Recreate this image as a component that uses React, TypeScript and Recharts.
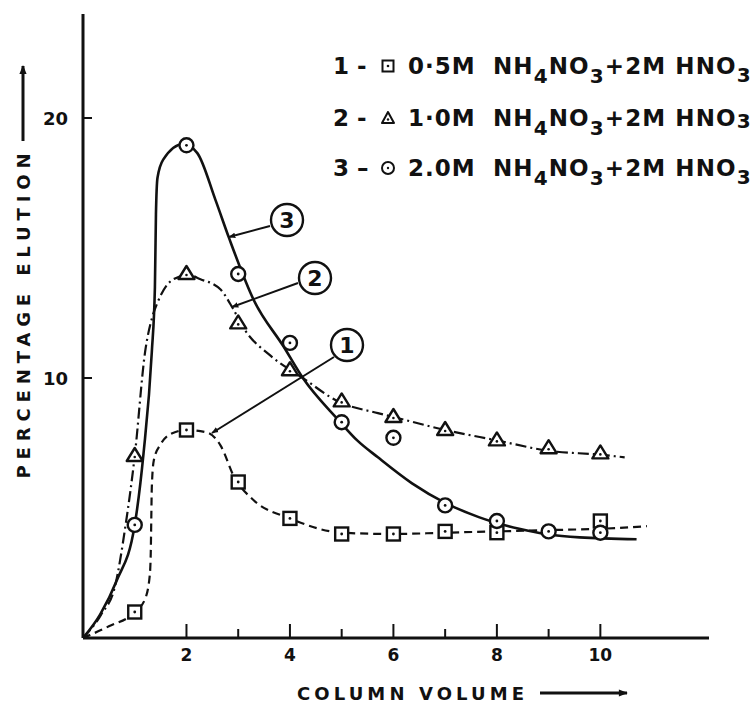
import React from "react";
import { ComposedChart, Line, Scatter, XAxis, YAxis } from "recharts";

// measured points (column volume -> % elution)
const sqX = [1, 2, 3, 4, 5, 6, 7, 8, 10];
const sqY = [1.0, 8.0, 6.0, 4.6, 4.0, 4.0, 4.1, 4.05, 4.5];
const triX = [1, 2, 3, 4, 5, 6, 7, 8, 9, 10];
const triY = [7.0, 14.0, 12.1, 10.3, 9.1, 8.5, 8.0, 7.6, 7.3, 7.1];
const cirX = [1, 2, 3, 4, 5, 6, 7, 8, 9, 10];
const cirY = [4.35, 18.95, 14.0, 11.35, 8.3, 7.7, 5.1, 4.5, 4.1, 4.05];

// hand-drawn fitted curves
const curve1X = [0, 0.5, 1.0, 1.2, 1.29, 1.31, 1.32, 1.33, 1.37, 1.5, 1.7, 2.0, 2.4, 2.66, 2.92, 3.3, 4.0, 5.0, 6.0, 7.0, 8.0, 9.0, 10.0, 10.9];
const curve1Y = [0, 0.45, 1.0, 1.5, 2.4, 3.3, 4.6, 5.8, 6.85, 7.45, 7.85, 8.0, 7.9, 7.4, 6.2, 5.3, 4.6, 4.05, 4.0, 4.05, 4.1, 4.15, 4.2, 4.3];
const curve2X = [0, 0.35, 0.62, 0.82, 1.0, 1.2, 1.34, 1.44, 1.75, 2.05, 2.27, 2.66, 2.89, 3.11, 3.63, 4.25, 4.93, 5.7, 6.0, 7.0, 8.0, 9.0, 10.0, 10.47];
const curve2Y = [0, 0.9, 2.0, 4.3, 7.0, 11.0, 12.35, 12.9, 13.8, 13.95, 13.8, 13.4, 12.7, 11.9, 10.85, 10.0, 9.1, 8.65, 8.5, 8.0, 7.6, 7.2, 7.05, 6.95];
const curve3X = [0, 0.33, 0.65, 1.0, 1.17, 1.33, 1.39, 1.41, 1.44, 1.55, 1.94, 2.21, 2.56, 2.82, 3.3, 3.88, 4.25, 4.93, 5.3, 5.7, 6.36, 7.0, 7.65, 8.43, 9.0, 9.6, 10.7];
const curve3Y = [0, 0.9, 2.2, 4.35, 7.1, 11.0, 13.5, 16.3, 17.7, 18.4, 19.0, 18.65, 16.85, 15.4, 13.0, 11.2, 10.0, 8.4, 7.6, 6.95, 5.95, 5.2, 4.65, 4.2, 3.98, 3.87, 3.8];

const xTicks = [2, 3, 4, 5, 6, 7, 8, 9, 10];
const yTicks = [10, 20];

const legendRows = [
  { num: "1 -", conc: "0·5M", mark: "square" },
  { num: "2 -", conc: "1·0M", mark: "triangle" },
  { num: "3 –", conc: "2.0M", mark: "circle" },
];

const ink = "#111";
const font = "'DejaVu Sans', sans-serif";

const zip = (xs: number[], ys: number[]) => xs.map((x, i) => ({ x, y: ys[i] }));

const SquareDot = (p: any) => (
  <g>
    <rect x={p.cx - 6.5} y={p.cy - 6.5} width={13} height={13} fill="#fff" stroke={ink} strokeWidth={2.4} />
    <circle cx={p.cx} cy={p.cy} r={1.4} fill={ink} />
  </g>
);
const TriDot = (p: any) => (
  <g>
    <polygon points={`${p.cx},${p.cy - 8} ${p.cx - 8},${p.cy + 5} ${p.cx + 8},${p.cy + 5}`} fill="#fff" stroke={ink} strokeWidth={2.4} strokeLinejoin="round" />
    <circle cx={p.cx} cy={p.cy + 1} r={1.3} fill={ink} />
  </g>
);
const CircleDot = (p: any) => (
  <g>
    <circle cx={p.cx} cy={p.cy} r={7} fill="#fff" stroke={ink} strokeWidth={2.4} />
    <circle cx={p.cx} cy={p.cy} r={1.4} fill={ink} />
  </g>
);

const XTick = (p: any) => {
  const v = p.payload.value;
  const major = v % 2 === 0;
  return (
    <g>
      <line x1={p.x} x2={p.x} y1={p.y} y2={p.y - (major ? 14 : 9)} stroke={ink} strokeWidth={2} />
      {major && (
        <text x={p.x} y={p.y + 23} textAnchor="middle" fontFamily={font} fontWeight="bold" fontSize={17} fill={ink}>
          {v}
        </text>
      )}
    </g>
  );
};

const YTick = (p: any) => (
  <g>
    <line x1={p.x} x2={p.x + 9} y1={p.y} y2={p.y} stroke={ink} strokeWidth={2} />
    <text x={p.x - 15} y={p.y + 7} textAnchor="end" fontFamily={font} fontWeight="bold" fontSize={18} fill={ink}>
      {p.payload.value}
    </text>
  </g>
);

function LegendMark({ kind, cx, cy }: { kind: string; cx: number; cy: number }) {
  if (kind === "square")
    return (
      <g>
        <rect x={cx - 5.5} y={cy - 5.5} width={11} height={11} fill="#fff" stroke={ink} strokeWidth={2} />
        <circle cx={cx} cy={cy} r={1.3} fill={ink} />
      </g>
    );
  if (kind === "triangle")
    return (
      <g>
        <polygon points={`${cx},${cy - 6} ${cx - 6},${cy + 5} ${cx + 6},${cy + 5}`} fill="#fff" stroke={ink} strokeWidth={2} strokeLinejoin="round" />
        <circle cx={cx} cy={cy + 1.5} r={1.2} fill={ink} />
      </g>
    );
  return (
    <g>
      <circle cx={cx} cy={cy} r={6} fill="#fff" stroke={ink} strokeWidth={2} />
      <circle cx={cx} cy={cy} r={1.2} fill={ink} />
    </g>
  );
}

function Overlay() {
  const baselines = [74, 126, 176];
  const txt = { fontFamily: font, fontWeight: "bold" as const, fontSize: 23, fill: ink };
  return (
    <svg width={754} height={706} style={{ position: "absolute", left: 0, top: 0, pointerEvents: "none" }}>
      <defs>
        <marker id="ah" viewBox="0 0 10 10" refX="9" refY="5" markerWidth="7" markerHeight="7" orient="auto" markerUnits="userSpaceOnUse">
          <path d="M0,1 L10,5 L0,9 z" fill={ink} />
        </marker>
        <marker id="big" viewBox="0 0 10 10" refX="9" refY="5" markerWidth="13" markerHeight="9" orient="auto" markerUnits="userSpaceOnUse">
          <path d="M0,1 L10,5 L0,9 z" fill={ink} />
        </marker>
      </defs>

      {legendRows.map((r, i) => {
        const b = baselines[i];
        const last = i === 1 ? 2 : 8;
        return (
          <g key={r.num}>
            <text x={333} y={b} {...txt}>{r.num}</text>
            <LegendMark kind={r.mark} cx={388} cy={b - 8} />
            <text x={408} y={b} {...txt} letterSpacing={1}>{r.conc}</text>
            <text x={493} y={b} {...txt} letterSpacing={1.1}>
              NH
              <tspan dy={9} fontSize={20}>4</tspan>
              <tspan dy={-9}>NO</tspan>
              <tspan dy={9} fontSize={20}>3</tspan>
              <tspan dy={-9}>+2M HNO</tspan>
              <tspan dy={last} fontSize={20}>3</tspan>
            </text>
          </g>
        );
      })}

      {/* circled curve labels */}
      {[
        { n: "3", cx: 287, cy: 220, from: [270, 226], to: [229, 237] },
        { n: "2", cx: 315, cy: 278, from: [298, 283], to: [232, 307] },
        { n: "1", cx: 347, cy: 345, from: [334, 357], to: [212, 433] },
      ].map((c) => (
        <g key={c.n}>
          <circle cx={c.cx} cy={c.cy} r={16} fill="#fff" stroke={ink} strokeWidth={2.4} />
          <text x={c.cx} y={c.cy + 8} textAnchor="middle" fontFamily={font} fontWeight="bold" fontSize={22} fill={ink}>
            {c.n}
          </text>
          <line x1={c.from[0]} y1={c.from[1]} x2={c.to[0]} y2={c.to[1]} stroke={ink} strokeWidth={2} markerEnd="url(#ah)" />
        </g>
      ))}

      {/* axis titles */}
      <text
        transform="translate(30,316) rotate(-90)"
        textAnchor="middle"
        fontFamily={font}
        fontWeight="bold"
        fontSize={18}
        fill={ink}
        textLength={325}
        lengthAdjust="spacing"
      >
        PERCENTAGE  ELUTION
      </text>
      <line x1={23} y1={141} x2={23} y2={66} stroke={ink} strokeWidth={3} markerEnd="url(#big)" />

      <text x={297} y={700} fontFamily={font} fontWeight="bold" fontSize={18} fill={ink} textLength={227} lengthAdjust="spacing">
        COLUMN  VOLUME
      </text>
      <line x1={540} y1={693} x2={627} y2={693} stroke={ink} strokeWidth={3} markerEnd="url(#big)" />
    </svg>
  );
}

export default function App() {
  return (
    <div style={{ position: "absolute", left: 0, top: 0, width: 754, height: 706, background: "#fff" }}>
      <ComposedChart width={754} height={706} margin={{ top: 14, right: 45, bottom: 0, left: 0 }}>
        <XAxis
          type="number"
          dataKey="x"
          domain={[0, 12.1]}
          ticks={xTicks}
          allowDataOverflow
          height={68}
          tickLine={false}
          tickSize={0}
          tickMargin={0}
          tick={<XTick />}
          axisLine={{ stroke: ink, strokeWidth: 3 }}
        />
        <YAxis
          type="number"
          dataKey="y"
          domain={[0, 24]}
          ticks={yTicks}
          allowDataOverflow
          width={83}
          tickLine={false}
          tickSize={0}
          tickMargin={0}
          tick={<YTick />}
          axisLine={{ stroke: ink, strokeWidth: 3 }}
        />
        <Line data={zip(curve1X, curve1Y)} dataKey="y" type="monotone" stroke={ink} strokeWidth={2.2} strokeDasharray="8 5" dot={false} activeDot={false} isAnimationActive={false} />
        <Line data={zip(curve2X, curve2Y)} dataKey="y" type="monotone" stroke={ink} strokeWidth={2.2} strokeDasharray="11 4 2 4" dot={false} activeDot={false} isAnimationActive={false} />
        <Line data={zip(curve3X, curve3Y)} dataKey="y" type="monotone" stroke={ink} strokeWidth={2.6} dot={false} activeDot={false} isAnimationActive={false} />
        <Scatter data={zip(sqX, sqY)} dataKey="y" shape={<SquareDot />} isAnimationActive={false} />
        <Scatter data={zip(triX, triY)} dataKey="y" shape={<TriDot />} isAnimationActive={false} />
        <Scatter data={zip(cirX, cirY)} dataKey="y" shape={<CircleDot />} isAnimationActive={false} />
      </ComposedChart>
      <Overlay />
    </div>
  );
}
